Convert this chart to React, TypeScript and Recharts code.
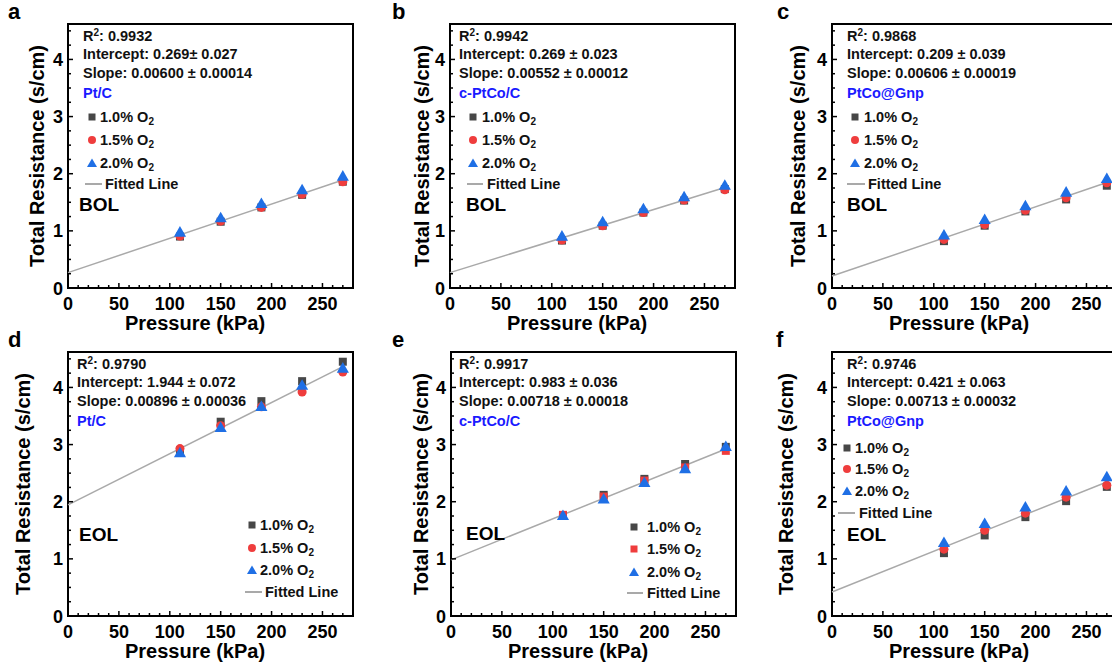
import React from "react";
import { ReferenceArea, ReferenceLine, Scatter, ScatterChart, XAxis, YAxis, ZAxis } from "recharts";

const FONT = "'Liberation Sans', Arial, sans-serif";
const BLACK = "#474747";
const RED = "#ef3d3d";
const BLUE = "#1f6fe5";
const FIT = "#a9a9a9";
const LABEL_BLUE = "#1a1aff";

const PRESSURE = [110, 150, 190, 230, 270];
const X_TICKS = [0, 10, 20, 30, 40, 50, 60, 70, 80, 90, 100, 110, 120, 130, 140, 150, 160, 170, 180, 190, 200, 210, 220, 230, 240, 250, 260, 270, 280];
const Y_TICKS = [0, 0.25, 0.5, 0.75, 1, 1.25, 1.5, 1.75, 2, 2.25, 2.5, 2.75, 3, 3.25, 3.5, 3.75, 4, 4.25, 4.5];

// BOL
const A_10 = [0.9, 1.16, 1.41, 1.63, 1.86];
const A_15 = [0.91, 1.17, 1.41, 1.64, 1.86];
const A_20 = [0.96, 1.21, 1.46, 1.7, 1.94];
const B_10 = [0.83, 1.09, 1.32, 1.53, 1.73];
const B_15 = [0.84, 1.09, 1.32, 1.54, 1.72];
const B_20 = [0.89, 1.14, 1.37, 1.58, 1.78];
const C_10 = [0.82, 1.09, 1.34, 1.55, 1.79];
const C_15 = [0.85, 1.11, 1.36, 1.58, 1.84];
const C_20 = [0.91, 1.18, 1.42, 1.66, 1.9];
// EOL
const D_10 = [2.9, 3.4, 3.76, 4.11, 4.45];
const D_15 = [2.93, 3.33, 3.66, 3.92, 4.27];
const D_20 = [2.84, 3.28, 3.65, 4.02, 4.32];
const E_10 = [1.76, 2.12, 2.4, 2.66, 2.96];
const E_15 = [1.77, 2.09, 2.37, 2.6, 2.89];
const E_20 = [1.74, 2.03, 2.32, 2.56, 2.95];
const F_10 = [1.1, 1.41, 1.73, 2.01, 2.26];
const F_15 = [1.17, 1.5, 1.8, 2.08, 2.29];
const F_20 = [1.27, 1.6, 1.89, 2.17, 2.42];

const LETTERS = ["a", "b", "c", "d", "e", "f"];
const CATALYSTS = ["Pt/C", "c-PtCo/C", "PtCo@Gnp", "Pt/C", "c-PtCo/C", "PtCo@Gnp"];
const STAGES = ["BOL", "BOL", "BOL", "EOL", "EOL", "EOL"];
const R2 = ["0.9932", "0.9942", "0.9868", "0.9790", "0.9917", "0.9746"];
const INTERCEPT_TEXT = ["0.269\u00b1 0.027", "0.269 \u00b1 0.023", "0.209 \u00b1 0.039", "1.944 \u00b1 0.072", "0.983 \u00b1 0.036", "0.421 \u00b1 0.063"];
const SLOPE_TEXT = ["0.00600 \u00b1 0.00014", "0.00552 \u00b1 0.00012", "0.00606 \u00b1 0.00019", "0.00896 \u00b1 0.00036", "0.00718 \u00b1 0.00018", "0.00713 \u00b1 0.00032"];
const INTERCEPTS = [0.269, 0.269, 0.209, 1.944, 0.983, 0.421];
const SLOPES = [0.006, 0.00552, 0.00606, 0.00896, 0.00718, 0.00713];
const SERIES = [
  [A_10, A_15, A_20],
  [B_10, B_15, B_20],
  [C_10, C_15, C_20],
  [D_10, D_15, D_20],
  [E_10, E_15, E_20],
  [F_10, F_15, F_20],
];

// panel layout: origin, text offsets, legend placement
const LAYOUT = [
  { left: 0, top: 0, yTitle: -31, textX: 15, legend: { x: 24, tx: 32, lx1: 17, lx2: 34, ltx: 37, rows: [93, 116, 139, 160] }, stage: { x: 11, y: 181 }, letterX: 8 },
  { left: 382, top: 0, yTitle: -28, textX: 9, legend: { x: 23, tx: 32, lx1: 17, lx2: 33, ltx: 37, rows: [93, 116, 139, 160] }, stage: { x: 16, y: 181 }, letterX: 10 },
  { left: 764, top: 0, yTitle: -34, textX: 15, legend: { x: 23, tx: 32, lx1: 15, lx2: 33, ltx: 36, rows: [93, 116, 139, 160] }, stage: { x: 15, y: 181 }, letterX: 13 },
  { left: 0, top: 328, yTitle: -45, textX: 9, legend: { x: 184, tx: 192, lx1: 177, lx2: 194, ltx: 197, rows: [173, 196, 218, 240] }, stage: { x: 11, y: 183 }, letterX: 8 },
  { left: 383, top: 328, yTitle: -30, textX: 8, legend: { x: 183, tx: 196, lx1: 176, lx2: 192, ltx: 196, rows: [175, 197, 220, 241] }, stage: { x: 15, y: 182 }, letterX: 9 },
  { left: 764, top: 328, yTitle: -46, textX: 15, legend: { x: 15, tx: 23, lx1: 6, lx2: 23, ltx: 27, rows: [96, 117, 139, 161] }, stage: { x: 15, y: 183 }, letterX: 12 },
];

const W = 382;
const H = 340;
const PL = 68; // plot left inside panel
const PT = 24; // plot top inside panel
const PW = 285;
const PH = 264;

function XTick(props: any) {
  const { x, y, payload } = props;
  const v = payload.value;
  const major = v % 50 === 0;
  return (
    <g>
      <line x1={x} x2={x} y1={y} y2={y - (major ? 5 : 3)} stroke="#000" strokeWidth={1.5} />
      {major && (
        <text x={x} y={y + 22} textAnchor="middle" fontFamily={FONT} fontWeight="bold" fontSize={18} fill="#000">
          {v}
        </text>
      )}
    </g>
  );
}

function YTick(props: any) {
  const { x, y, payload } = props;
  const v = payload.value;
  const major = Number.isInteger(v);
  return (
    <g>
      <line x1={x} x2={x + (major ? 5 : 3)} y1={y} y2={y} stroke="#000" strokeWidth={1.5} />
      {major && (
        <text x={x - 5} y={y + 6.5} textAnchor="end" fontFamily={FONT} fontWeight="bold" fontSize={18} fill="#000">
          {v}
        </text>
      )}
    </g>
  );
}

function Marker({ kind, color }: { kind: string; color: string }) {
  return (
    <svg width={12} height={12} style={{ position: "absolute", left: -6, top: -6 }}>
      {kind === "square" && <rect x={2.5} y={2.5} width={7} height={7} fill={color} />}
      {kind === "circle" && <circle cx={6} cy={6} r={4} fill={color} />}
      {kind === "triangle" && <polygon points="6,1.5 11,10 1,10" fill={color} />}
    </svg>
  );
}

const textStyle: React.CSSProperties = {
  position: "absolute",
  fontFamily: FONT,
  fontWeight: "bold",
  fontSize: 14.5,
  lineHeight: "18px",
  whiteSpace: "nowrap",
  color: "#111",
};

function O2() {
  return (
    <>
      O<sub style={{ fontSize: 10, verticalAlign: "-3px", lineHeight: 0 }}>2</sub>
    </>
  );
}

function Panel({ i }: { i: number }) {
  const lay = LAYOUT[i];
  const [s10, s15, s20] = SERIES[i];
  const redShape = i === 4 ? "square" : "circle";
  const toPts = (arr: number[]) => PRESSURE.map((x, k) => ({ x, y: arr[k] }));
  const fitEnd = INTERCEPTS[i] + SLOPES[i] * 270;
  const fx = PL;
  const fy = PT;
  const lines = [
    <>R<sup style={{ fontSize: 10, verticalAlign: "5px", lineHeight: 0 }}>2</sup>: {R2[i]}</>,
    <>Intercept: {INTERCEPT_TEXT[i]}</>,
    <>Slope: {SLOPE_TEXT[i]}</>,
  ];
  const lineY = [12, 30, 49];
  const lg = lay.legend;
  const legendItems = [
    { kind: "square", color: BLACK, label: "1.0% " },
    { kind: redShape, color: RED, label: "1.5% " },
    { kind: "triangle", color: BLUE, label: "2.0% " },
  ];
  return (
    <div style={{ position: "absolute", left: lay.left, top: lay.top, width: W, height: H }}>
      <ScatterChart width={W} height={H} margin={{ top: PT, right: W - PL - PW, bottom: 0, left: 0 }}>
        <XAxis
          type="number"
          dataKey="x"
          domain={[0, 280]}
          ticks={X_TICKS}
          interval={0}
          height={H - PT - PH}
          tickLine={false}
          axisLine={false}
          tickSize={0}
          tickMargin={0}
          tick={(p: any) => <XTick {...p} />}
        />
        <YAxis
          type="number"
          dataKey="y"
          domain={[0, 4.62]}
          ticks={Y_TICKS}
          interval={0}
          width={PL}
          tickLine={false}
          axisLine={false}
          tickSize={0}
          tickMargin={0}
          tick={(p: any) => <YTick {...p} />}
        />
        <ZAxis type="number" range={[46, 46]} />
        <ReferenceArea x1={0} x2={280} y1={0} y2={4.62} fill="none" stroke="#000" strokeWidth={2} ifOverflow="visible" />
        <Scatter data={toPts(s10)} shape="square" fill={BLACK} isAnimationActive={false} />
        <Scatter data={toPts(s15)} shape={redShape as any} fill={RED} isAnimationActive={false} />
        <Scatter data={toPts(s20)} shape="triangle" fill={BLUE} isAnimationActive={false} />
        <ReferenceLine
          segment={[
            { x: 0, y: INTERCEPTS[i] },
            { x: 270, y: fitEnd },
          ]}
          stroke={FIT}
          strokeWidth={1.5}
          ifOverflow="visible"
        />
      </ScatterChart>

      {/* panel letter */}
      <div style={{ ...textStyle, left: lay.letterX, top: 0, fontSize: 22, lineHeight: "24px", color: "#000" }}>{LETTERS[i]}</div>

      {/* axis titles */}
      <div style={{ ...textStyle, left: fx + 57, top: fy + PH + 23, fontSize: 20, lineHeight: "24px", color: "#000" }}>Pressure (kPa)</div>
      <div
        style={{
          ...textStyle,
          left: fx + lay.yTitle,
          top: fy + PH / 2,
          fontSize: 20,
          lineHeight: "24px",
          color: "#000",
          transform: "translate(-50%, -50%) rotate(-90deg)",
        }}
      >
        Total Resistance (s/cm)
      </div>

      {/* fit statistics */}
      {lines.map((l, k) => (
        <div key={k} style={{ ...textStyle, left: fx + lay.textX, top: fy + lineY[k] - 9 }}>
          {l}
        </div>
      ))}
      <div style={{ ...textStyle, left: fx + lay.textX, top: fy + 69 - 9, color: LABEL_BLUE }}>{CATALYSTS[i]}</div>

      {/* legend */}
      {legendItems.map((it, k) => (
        <React.Fragment key={k}>
          <div style={{ position: "absolute", left: fx + lg.x, top: fy + lg.rows[k] }}>
            <Marker kind={it.kind} color={it.color} />
          </div>
          <div style={{ ...textStyle, left: fx + lg.tx, top: fy + lg.rows[k] - 9 }}>
            {it.label}
            <O2 />
          </div>
        </React.Fragment>
      ))}
      <div
        style={{
          position: "absolute",
          left: fx + lg.lx1,
          top: fy + lg.rows[3] - 0.75,
          width: lg.lx2 - lg.lx1,
          height: 1.5,
          background: FIT,
        }}
      />
      <div style={{ ...textStyle, left: fx + lg.ltx, top: fy + lg.rows[3] - 9 }}>Fitted Line</div>

      {/* stage */}
      <div style={{ ...textStyle, left: fx + lay.stage.x, top: fy + lay.stage.y - 11, fontSize: 19, lineHeight: "22px", color: "#000" }}>
        {STAGES[i]}
      </div>
    </div>
  );
}

export default function App() {
  return (
    <div style={{ position: "absolute", left: 0, top: 0, width: 1112, height: 665, overflow: "hidden", background: "#fff" }}>
      {LETTERS.map((_, i) => (
        <Panel key={i} i={i} />
      ))}
    </div>
  );
}
